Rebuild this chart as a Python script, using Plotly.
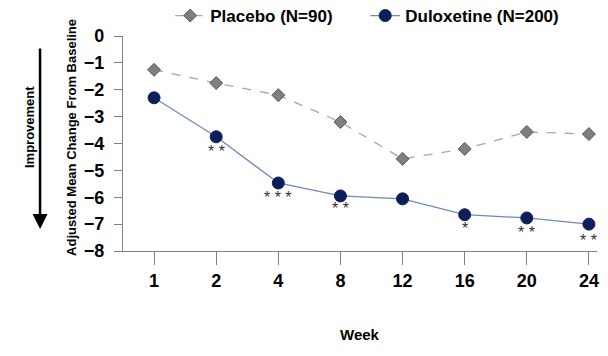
import plotly.graph_objects as go

weeks = ["1", "2", "4", "8", "12", "16", "20", "24"]
placebo = [-1.26, -1.75, -2.2, -3.2, -4.57, -4.2, -3.57, -3.65]
duloxetine = [-2.3, -3.75, -5.47, -5.95, -6.06, -6.65, -6.77, -7.0]
sig_labels = ["", "* *", "* * *", "* *", "", "*", "* *", "* *"]
sig_y = [None, -4.3, -6.0, -6.4, None, -7.15, -7.3, -7.6]
y_ticks = [0, -1, -2, -3, -4, -5, -6, -7, -8]

FONT = "Arial, Liberation Sans, sans-serif"

fig = go.Figure()
fig.add_trace(go.Scatter(
    x=weeks, y=placebo, mode="lines+markers", name="Placebo (N=90)",
    line=dict(color="#a6a6a6", width=1.3, dash="dash"),
    marker=dict(symbol="diamond", size=10, color="#7f7f7f", line=dict(color="#595959", width=1)),
    cliponaxis=False,
))
fig.add_trace(go.Scatter(
    x=weeks, y=duloxetine, mode="lines+markers", name="Duloxetine (N=200)",
    line=dict(color="#7089bd", width=1.3),
    marker=dict(symbol="circle", size=12, color="#0c1f5b", line=dict(color="#0c1f5b", width=1)),
    cliponaxis=False,
))
for i, (s, yy) in enumerate(zip(sig_labels, sig_y)):
    if s:
        fig.add_annotation(x=i, y=yy, text=s, showarrow=False,
                           font=dict(family=FONT, size=16, color="#333"))

fig.add_annotation(xref="paper", yref="paper", x=0.5, y=-0.437, xanchor="center", text="<b>Week</b>",
                   showarrow=False, font=dict(family=FONT, size=15, color="black"))
fig.add_annotation(xref="paper", yref="paper", x=-0.11, y=0.53, xanchor="center", yanchor="middle",
                   text="<b>Adjusted Mean Change From Baseline</b>",
                   textangle=-90, showarrow=False,
                   font=dict(family=FONT, size=13, color="black"))
fig.add_annotation(xref="paper", yref="paper", x=-0.196, y=0.577, xanchor="center", yanchor="middle",
                   text="<b>Improvement</b>",
                   textangle=-90, showarrow=False,
                   font=dict(family=FONT, size=13, color="black"))
fig.add_annotation(xref="paper", yref="paper", x=-0.175, y=0.102, ax=0, ay=-182,
                   text="", showarrow=True,
                   arrowhead=2, arrowsize=1.2, arrowwidth=2.5, arrowcolor="black")

fig.update_layout(
    width=600, height=348,
    margin=dict(l=115, r=11, t=28, b=105, autoexpand=False),
    paper_bgcolor="white", plot_bgcolor="white",
    font=dict(family=FONT, color="black"),
    showlegend=True,
    legend=dict(orientation="h", x=0.511, xanchor="center",
                y=1.093, yanchor="middle", entrywidth=150,
                font=dict(size=17, color="black", family=FONT, weight="bold"),
                bgcolor="rgba(0,0,0,0)"),
    xaxis=dict(type="category", range=[-0.5, 7.13], showline=True, linecolor="#808080", linewidth=1.3,
               ticks="outside", ticklen=13, tickcolor="#808080", showgrid=False, zeroline=False,
               tickfont=dict(size=18, family=FONT, color="black", weight="bold")),
    yaxis=dict(range=[-8, 0], tickvals=y_ticks, showline=True, linecolor="#808080", linewidth=1.3,
               ticks="outside", ticklen=8, tickcolor="#808080", showgrid=False, zeroline=False,
               ticklabelstandoff=6,
               tickfont=dict(size=18, family=FONT, color="black", weight="bold")),
)
fig.write_html("out.html")
